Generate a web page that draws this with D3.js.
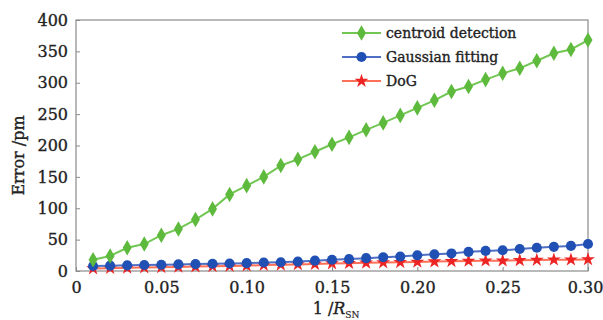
<!DOCTYPE html>
<html>
<head>
<meta charset="utf-8">
<script src="https://cdn.jsdelivr.net/npm/d3@7"></script>
<style>
  body { margin: 0; background: #fff; }
  text { font-family: "DejaVu Serif", "Liberation Serif", serif; fill: #222; stroke: #222; stroke-width: 0.35px; }
</style>
</head>
<body>
<div id="chart"></div>
<script>
// noise level 1/R_SN, 0.01 .. 0.30
const invSnr = [0.01, 0.02, 0.03, 0.04, 0.05, 0.06, 0.07, 0.08, 0.09, 0.10,
                0.11, 0.12, 0.13, 0.14, 0.15, 0.16, 0.17, 0.18, 0.19, 0.20,
                0.21, 0.22, 0.23, 0.24, 0.25, 0.26, 0.27, 0.28, 0.29, 0.30];

// error in pm
const centroid = [18, 24, 37, 43, 57, 67, 82, 99, 122, 136,
                  150, 168, 178, 190, 202, 213, 225, 236, 248, 260,
                  272, 286, 294, 305, 315, 323, 335, 347, 353, 368];
const gaussian = [8, 8.5, 9, 9.5, 10, 10.5, 11, 11.5, 12, 12.5,
                  13.5, 14, 15, 16.5, 18, 19, 20.5, 22, 23, 25,
                  26.5, 28, 30.5, 32, 33, 35, 37, 38.5, 40, 43];
const dog = [4, 4.5, 5, 5.5, 6, 6.5, 7, 7.5, 8, 8.5,
             9.5, 10, 10.5, 11, 12, 12.5, 13, 13.5, 14, 14.5,
             15, 15.5, 16, 16.5, 16.5, 17, 17.5, 18, 18, 18.5];

const xTicks = [0, 0.05, 0.10, 0.15, 0.20, 0.25, 0.30];
const yTicks = [0, 50, 100, 150, 200, 250, 300, 350, 400];

const seriesNames = ["centroid detection", "Gaussian fitting", "DoG"];

const width = 603, height = 320;
const margin = {left: 76, right: 15, top: 20, bottom: 49};

const svg = d3.select("#chart").append("svg")
  .attr("width", width).attr("height", height);

const x = d3.scaleLinear().domain([0, 0.30]).range([margin.left, width - margin.right]);
const y = d3.scaleLinear().domain([0, 400]).range([height - margin.bottom, margin.top]);

// frame
svg.append("rect")
  .attr("x", x(0)).attr("y", y(400))
  .attr("width", x(0.30) - x(0)).attr("height", y(0) - y(400))
  .attr("fill", "none").attr("stroke", "#8a8a8a").attr("stroke-width", 1.2);

// axes with inward ticks
const xAxis = svg.append("g")
  .attr("transform", `translate(0,${y(0)})`)
  .call(d3.axisBottom(x).tickValues(xTicks).tickSizeInner(-4).tickSizeOuter(0)
        .tickFormat(d => d === 0 ? "0" : d3.format(".2f")(d)));
xAxis.select(".domain").remove();
xAxis.selectAll(".tick line").attr("stroke", "#8a8a8a");
xAxis.selectAll(".tick text").attr("y", 8).attr("dy", "0.9em")
  .style("font-size", "16px").attr("fill", "#222");
// keep the last label inside the page
xAxis.selectAll(".tick text").filter(d => d === 0.30).attr("dx", -3);

const yAxis = svg.append("g")
  .attr("transform", `translate(${x(0)},0)`)
  .call(d3.axisLeft(y).tickValues(yTicks).tickSizeInner(-4).tickSizeOuter(0));
yAxis.select(".domain").remove();
yAxis.selectAll(".tick line").attr("stroke", "#8a8a8a");
yAxis.selectAll(".tick text").attr("x", -8)
  .style("font-size", "16px").attr("fill", "#222");

// axis titles
svg.append("text")
  .attr("transform", `translate(24,${(y(0) + y(400)) / 2 + 10}) rotate(-90)`)
  .attr("text-anchor", "middle")
  .style("font-size", "16px")
  .text("Error /pm");

const xt = svg.append("text")
  .attr("x", 336).attr("y", 314)
  .attr("text-anchor", "middle")
  .style("font-size", "16px");
xt.append("tspan").text("1 /");
xt.append("tspan").attr("font-style", "italic").text("R");
xt.append("tspan").attr("dy", 4).style("font-size", "9px").style("stroke-width", "0.2px").text("SN");

// series
const series = [
  {name: seriesNames[0], values: centroid, line: "#72c653", fill: "#5dba3c", symbol: d3.symbolDiamond, size: 70},
  {name: seriesNames[1], values: gaussian, line: "#4f6fc4", fill: "#2150b4", symbol: d3.symbolCircle, size: 80},
  {name: seriesNames[2], values: dog, line: "#ff7058", fill: "#ec2424", symbol: d3.symbolStar, size: 60}
];

const line = d3.line().x((d, i) => x(invSnr[i])).y(d => y(d));

// draw in reverse so green sits on top
series.slice().reverse().forEach(s => {
  svg.append("path")
    .datum(s.values)
    .attr("d", line)
    .attr("fill", "none")
    .attr("stroke", s.line)
    .attr("stroke-width", 2);
  svg.append("g").selectAll("path")
    .data(s.values)
    .join("path")
    .attr("transform", (d, i) => `translate(${x(invSnr[i])},${y(d)})`)
    .attr("d", d3.symbol(s.symbol, s.size))
    .attr("fill", s.fill);
});

// legend
const legend = svg.append("g").attr("transform", "translate(342,33)");
series.forEach((s, i) => {
  const g = legend.append("g").attr("transform", `translate(0,${i * 24})`);
  g.append("line").attr("x1", 0).attr("x2", 39).attr("y1", 0).attr("y2", 0)
    .attr("stroke", s.line).attr("stroke-width", 2);
  g.append("path").attr("transform", "translate(19.5,0)")
    .attr("d", d3.symbol(s.symbol, s.size)).attr("fill", s.fill);
  g.append("text").attr("x", 44).attr("dy", "0.35em")
    .style("font-size", "14px").text(s.name);
});
</script>
</body>
</html>
